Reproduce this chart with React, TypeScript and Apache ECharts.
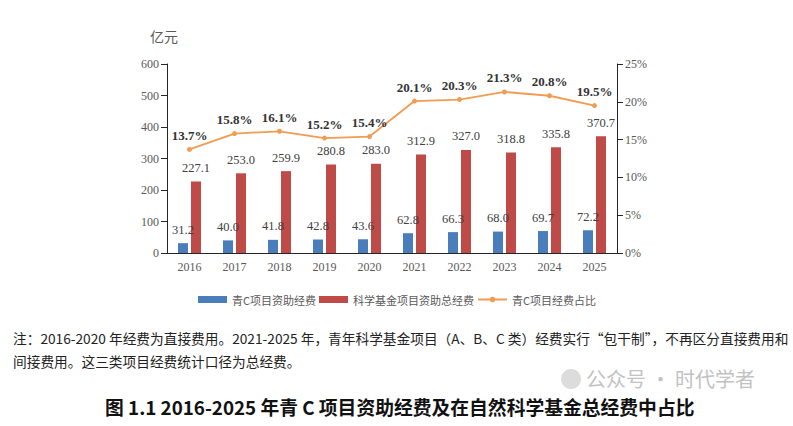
import React, { useEffect, useRef } from "react";
import * as echarts from "echarts";

const years = ["2016", "2017", "2018", "2019", "2020", "2021", "2022", "2023", "2024", "2025"];
const youthC = [31.2, 40.0, 41.8, 42.8, 43.6, 62.8, 66.3, 68.0, 69.7, 72.2];
const totalFund = [227.1, 253.0, 259.9, 280.8, 283.0, 312.9, 327.0, 318.8, 335.8, 370.7];
const share = [13.7, 15.8, 16.1, 15.2, 15.4, 20.1, 20.3, 21.3, 20.8, 19.5];
const seriesNames = ["青C项目资助经费", "科学基金项目资助总经费", "青C项目经费占比"];
const unitLabel = "亿元";
const noteLine1 = "注：2016-2020 年经费为直接费用。2021-2025 年，青年科学基金项目（A、B、C 类）经费实行“包干制”，不再区分直接费用和";
const noteLine2 = "间接费用。这三类项目经费统计口径为总经费。";
const titleText = "图 1.1 2016-2025 年青 C 项目资助经费及在自然科学基金总经费中占比";
const watermark = "公众号 · 时代学者";

const serif = "'Liberation Serif', 'Times New Roman', serif";
const cjk = "'Noto Sans CJK SC', 'Noto Sans', sans-serif";

export default function App() {
  const ref = useRef<HTMLDivElement>(null);
  useEffect(() => {
    document.body.style.margin = "0";
    const chart = echarts.init(ref.current!, null, { renderer: "svg" });
    const axisLine = { show: true, lineStyle: { color: "#262626", width: 1 } };
    const axisLabel = { color: "#595959", fontFamily: serif, fontSize: 12 };
    const barLabel = {
      show: true,
      position: "top",
      distance: 7,
      color: "#404040",
      fontFamily: serif,
      fontSize: 12.5,
      formatter: (p: any) => p.value.toFixed(1),
    };
    chart.setOption({
      animation: false,
      backgroundColor: "#ffffff",
      grid: { left: 167, right: 176, top: 64, height: 189 },
      legend: {
        top: 289,
        left: 193,
        itemWidth: 29,
        itemHeight: 7,
        itemGap: 3,
        textStyle: { color: "#595959", fontFamily: cjk, fontSize: 11 },
        data: [
          { name: seriesNames[0], icon: "rect" },
          { name: seriesNames[1], icon: "rect" },
          { name: seriesNames[2] },
        ],
      },
      xAxis: {
        type: "category",
        data: years,
        axisLine,
        axisTick: { show: false },
        axisLabel: { ...axisLabel, margin: 8 },
      },
      yAxis: [
        {
          type: "value",
          min: 0,
          max: 600,
          interval: 100,
          axisLine,
          axisTick: { show: true, length: 6, lineStyle: { color: "#262626" } },
          axisLabel: { ...axisLabel, margin: 8 },
          splitLine: { show: false },
        },
        {
          type: "value",
          min: 0,
          max: 25,
          interval: 5,
          position: "right",
          axisLine,
          axisTick: { show: true, length: 6, lineStyle: { color: "#262626" } },
          axisLabel: { ...axisLabel, margin: 8, formatter: "{value}%" },
          splitLine: { show: false },
        },
      ],
      series: [
        {
          name: seriesNames[0],
          type: "bar",
          data: youthC,
          barWidth: 10,
          barGap: "30%",
          itemStyle: { color: "#4a7ebb" },
          label: barLabel,
        },
        {
          name: seriesNames[1],
          type: "bar",
          data: totalFund,
          barWidth: 10,
          itemStyle: { color: "#be4b48" },
          label: barLabel,
        },
        {
          name: seriesNames[2],
          type: "line",
          yAxisIndex: 1,
          data: share,
          symbol: "circle",
          symbolSize: 5,
          itemStyle: { color: "#f29b52" },
          lineStyle: { color: "#f29b52", width: 1.8 },
          label: {
            show: true,
            position: "top",
            distance: 5,
            color: "#333333",
            fontFamily: serif,
            fontSize: 13,
            fontWeight: "bold",
            formatter: (p: any) => p.value.toFixed(1) + "%",
          },
        },
      ],
      graphic: [
        {
          type: "text",
          left: 150,
          top: 29,
          style: { text: unitLabel, fill: "#595959", font: `14px ${cjk}` },
        },
        {
          type: "text",
          left: 13,
          top: 331,
          style: { text: noteLine1, fill: "#222222", font: `13.7px ${cjk}` },
        },
        {
          type: "text",
          left: 13,
          top: 354,
          style: { text: noteLine2, fill: "#222222", font: `13.7px ${cjk}` },
        },
        {
          type: "circle",
          shape: { cx: 571, cy: 379, r: 10 },
          style: { fill: "#dcdcdc" },
        },
        {
          type: "text",
          left: 586,
          top: 368,
          style: { text: watermark, fill: "#c2c2c2", font: `20px ${cjk}` },
        },
        {
          type: "text",
          left: 105,
          top: 397,
          style: { text: titleText, fill: "#111111", font: `bold 18.8px ${cjk}` },
        },
      ],
    });
    return () => chart.dispose();
  }, []);
  return <div ref={ref} style={{ width: 793, height: 426 }} />;
}
